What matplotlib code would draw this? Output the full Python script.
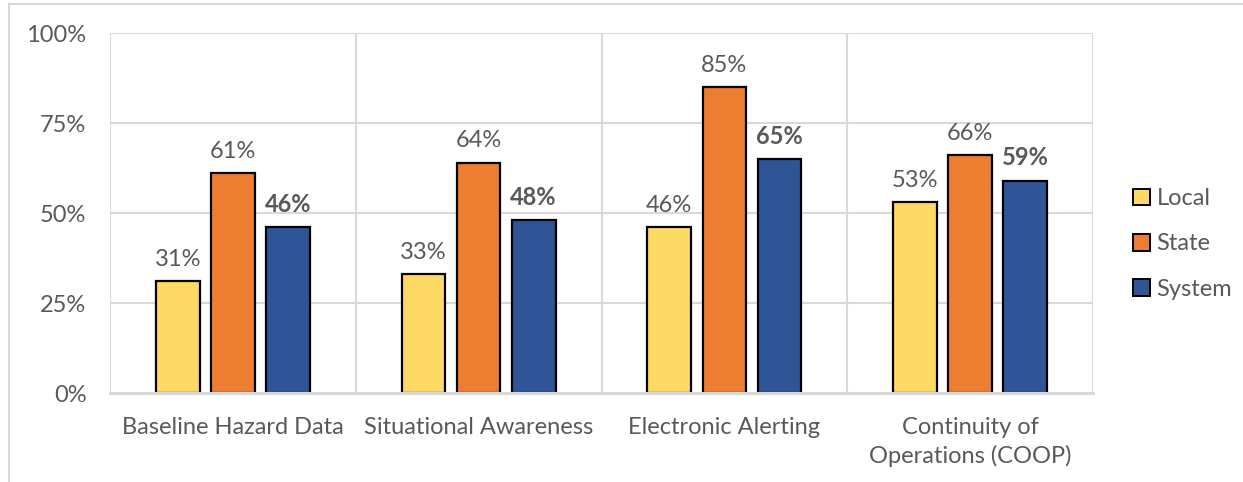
import matplotlib
matplotlib.use("Agg")
import matplotlib.pyplot as plt
from matplotlib.lines import Line2D
from matplotlib.patches import Patch
import numpy as np

categories = ["Baseline Hazard Data", "Situational Awareness",
              "Electronic Alerting", "Continuity of\nOperations (COOP)"]
local = [31, 33, 46, 53]
state = [61, 64, 85, 66]
system = [46, 48, 65, 59]
series_names = ["Local", "State", "System"]
colors = ["#FFD966", "#ED7D31", "#2F5597"]
yticks = [0, 25, 50, 75, 100]

plt.rcParams['font.family'] = ['Lato', 'DejaVu Sans']
text_color = "#595959"
grid_color = "#D9D9D9"
fs = 17

fig = plt.figure(figsize=(12.43, 4.82), dpi=100)
ax = fig.add_axes([110 / 1243, 1 - 393 / 482, (1093 - 110) / 1243, 360 / 482])

x = np.arange(len(categories))
width = 0.178
step = 0.224
series = [local, state, system]
for i, (vals, col, name) in enumerate(zip(series, colors, series_names)):
    pos = x + (i - 1) * step
    ax.bar(pos, vals, width=width, color=col, edgecolor="black",
           linewidth=1.6, zorder=3, label=name)
    for p, v in zip(pos, vals):
        ax.text(p, v + 3.1, f"{v}%", ha="center", va="bottom",
                fontsize=fs, color=text_color,
                fontweight="bold" if name == "System" else "normal")

ax.set_xlim(-0.5, len(categories) - 0.5)
ax.set_ylim(0, 100)
ax.set_yticks(yticks)
ax.set_yticklabels([f"{t}%" for t in yticks], fontsize=fs, color=text_color)
ax.set_xticks(x)
ax.set_xticklabels(categories, fontsize=fs, color=text_color, linespacing=1.35)
ax.tick_params(axis="both", length=0)
ax.tick_params(axis="y", pad=17)
ax.tick_params(axis="x", pad=17.5)

# horizontal gridlines and category separators
for t in yticks[1:]:
    ax.axhline(t, color=grid_color, linewidth=1.5, zorder=1)
for b in np.arange(-0.5, len(categories), 1.0):
    ax.axvline(b, color=grid_color, linewidth=1.5, zorder=1)
for s in ax.spines.values():
    s.set_visible(False)
ax.axhline(0, color=grid_color, linewidth=2.2, zorder=4, clip_on=False)

handles = [Patch(facecolor=c, edgecolor="black", linewidth=1.4) for c in colors]
leg = fig.legend(handles, series_names, loc="center left",
                 bbox_to_anchor=(1133 / 1243, 1 - 244 / 482),
                 frameon=False, fontsize=fs, labelcolor=text_color,
                 handlelength=0.7, handleheight=0.7, handletextpad=0.3,
                 labelspacing=1.03, borderaxespad=0, borderpad=0)

# chart border
fig.add_artist(Line2D([9 / 1243, 1], [1 - 4 / 482, 1 - 4 / 482],
                      color=grid_color, linewidth=1.5))
fig.add_artist(Line2D([9 / 1243, 9 / 1243], [0, 1 - 4 / 482],
                      color=grid_color, linewidth=1.5))

fig.savefig("out.png", dpi=100, facecolor="white")
